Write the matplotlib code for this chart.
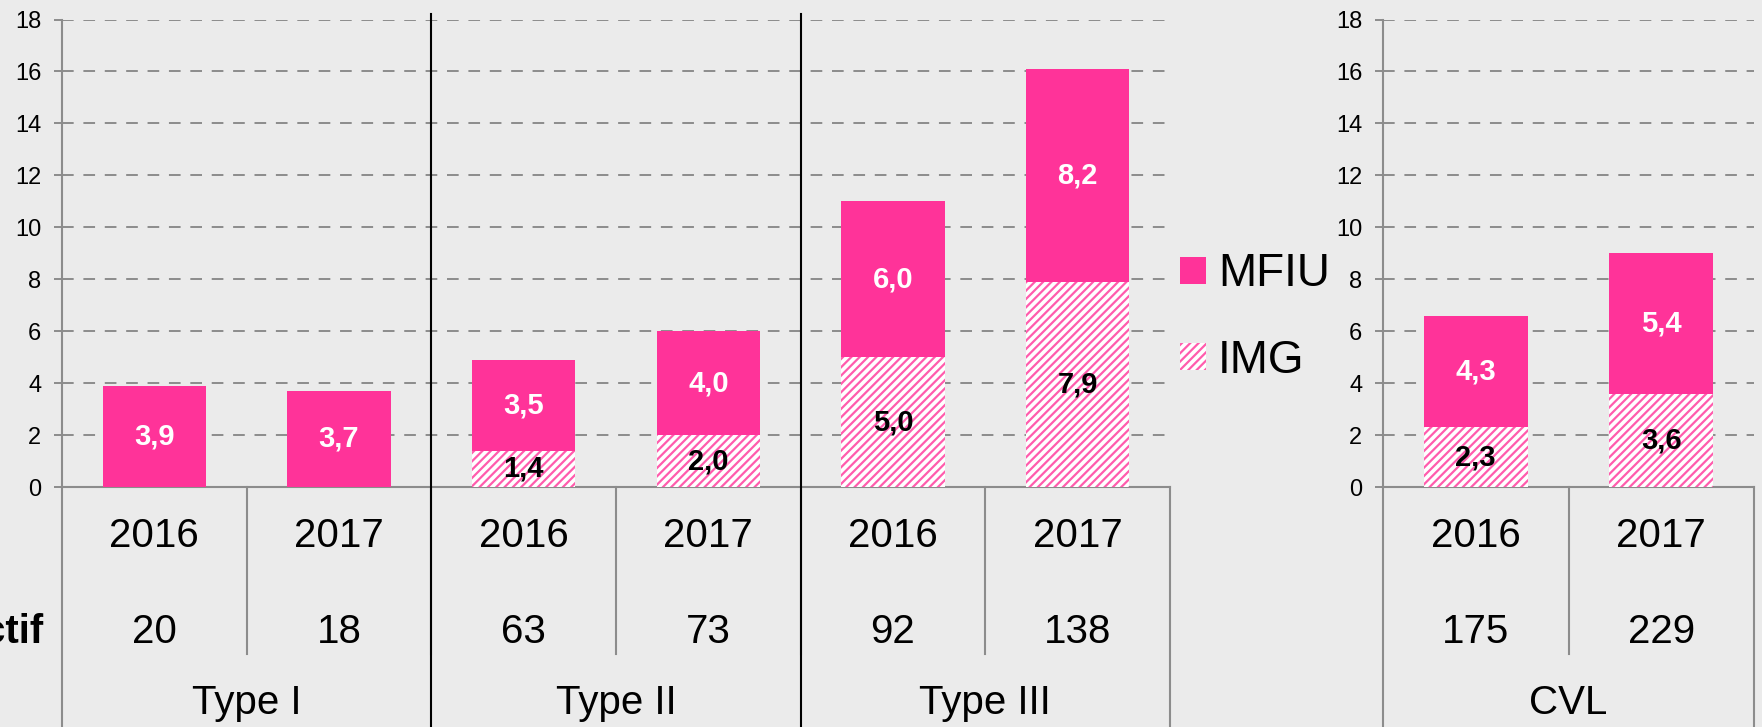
import matplotlib
matplotlib.use("Agg")
import matplotlib.pyplot as plt
from matplotlib.patches import Patch

plt.rcParams['font.family'] = ['Liberation Sans', 'DejaVu Sans']
plt.rcParams['hatch.linewidth'] = 1.6

W, H = 1762, 727
BG = '#EBEBEB'
PINK = '#FF3399'
HATCH_PINK = '#FF5CAD'
GRAY = '#8C8C8C'

# data
years_left = ['2016', '2017', '2016', '2017', '2016', '2017']
groups_left = ['Type I', 'Type II', 'Type III']
img_left = [0, 0, 1.4, 2.0, 5.0, 7.9]
mfiu_left = [3.9, 3.7, 3.5, 4.0, 6.0, 8.2]
effectif_left = [20, 18, 63, 73, 92, 138]

years_cvl = ['2016', '2017']
groups_cvl = ['CVL']
img_cvl = [2.3, 3.6]
mfiu_cvl = [4.3, 5.4]
effectif_cvl = [175, 229]

yticks = [0, 2, 4, 6, 8, 10, 12, 14, 16, 18]


def fmt(v):
    return ('%.1f' % v).replace('.', ',')


def draw_panel(ax, years, groups, img, mfiu, effectif):
    n = len(years)
    x = list(range(n))
    ax.set_facecolor(BG)
    ax.bar(x, img, width=0.56, color='white', edgecolor=HATCH_PINK,
           hatch='////', linewidth=0, zorder=3)
    ax.bar(x, mfiu, width=0.56, bottom=img, color=PINK, linewidth=0, zorder=3)
    for i in range(n):
        if img[i] > 0:
            ax.text(x[i], img[i] / 2, fmt(img[i]), ha='center', va='center',
                    fontsize=21, fontweight='bold', color='black', zorder=4)
        ax.text(x[i], img[i] + mfiu[i] / 2, fmt(mfiu[i]), ha='center',
                va='center', fontsize=21, fontweight='bold', color='white',
                zorder=4)

    ax.set_xlim(-0.5, n - 0.5)
    ax.set_ylim(0, 18)
    ax.set_yticks(yticks)
    ax.set_xticks([])
    ax.yaxis.grid(True, color=GRAY, linestyle=(0, (6, 5)), linewidth=1.4)
    ax.set_axisbelow(True)
    for s in ['top', 'right']:
        ax.spines[s].set_visible(False)
    ax.spines['left'].set_color(GRAY)
    ax.spines['left'].set_linewidth(1.5)
    ax.spines['bottom'].set_color(GRAY)
    ax.spines['bottom'].set_linewidth(1.5)
    ax.tick_params(axis='y', length=6, width=1.4, color=GRAY,
                   labelsize=17, pad=9)

    tr = ax.get_xaxis_transform()
    bottom = -0.515
    # table under the axis
    ax.plot([-0.5, -0.5], [0, bottom], color=GRAY, lw=1.5,
            transform=tr, clip_on=False)
    ax.plot([n - 0.5, n - 0.5], [0, bottom], color=GRAY, lw=1.5,
            transform=tr, clip_on=False)
    for i in range(n):
        ax.text(x[i], -0.105, years[i], ha='center', va='center',
                fontsize=29, transform=tr)
        ax.text(x[i], -0.31, str(effectif[i]), ha='center', va='center',
                fontsize=29, transform=tr)
        if i < n - 1:
            ax.plot([i + 0.5, i + 0.5], [0, -0.357], color=GRAY, lw=1.5,
                    transform=tr, clip_on=False)
    size = n // len(groups)
    for g in range(len(groups)):
        ax.text(g * size + (size - 1) / 2, -0.462, groups[g], ha='center',
                va='center', fontsize=29, transform=tr)
        if g > 0:
            xs = g * size - 0.5
            ax.plot([xs, xs], [1.012, bottom], color='black', lw=1.5,
                    transform=tr, clip_on=False, zorder=5)


fig = plt.figure(figsize=(W / 100, H / 100), dpi=100, facecolor=BG)
ax1 = fig.add_axes([62 / W, (H - 487) / H, (1170 - 62) / W, (487 - 19.5) / H])
ax2 = fig.add_axes([1383 / W, (H - 487) / H, (1754 - 1383) / W, (487 - 19.5) / H])

draw_panel(ax1, years_left, groups_left, img_left, mfiu_left, effectif_left)
draw_panel(ax2, years_cvl, groups_cvl, img_cvl, mfiu_cvl, effectif_cvl)

fig.text(43 / W, (H - 632) / H, 'Effectif', ha='right', va='center',
         fontsize=29, fontweight='bold')

handles = [Patch(facecolor=PINK, linewidth=0),
           Patch(facecolor='white', edgecolor=HATCH_PINK, hatch='////', linewidth=0)]
fig.legend(handles, ['MFIU', 'IMG'], loc='center left',
           bbox_to_anchor=(1180 / W, (H - 317.5) / H), frameon=False,
           fontsize=33, handlelength=0.57, handleheight=0.52,
           handletextpad=0.26, labelspacing=0.92, borderpad=0,
           borderaxespad=0)

fig.savefig('out.png', dpi=100, facecolor=BG)
